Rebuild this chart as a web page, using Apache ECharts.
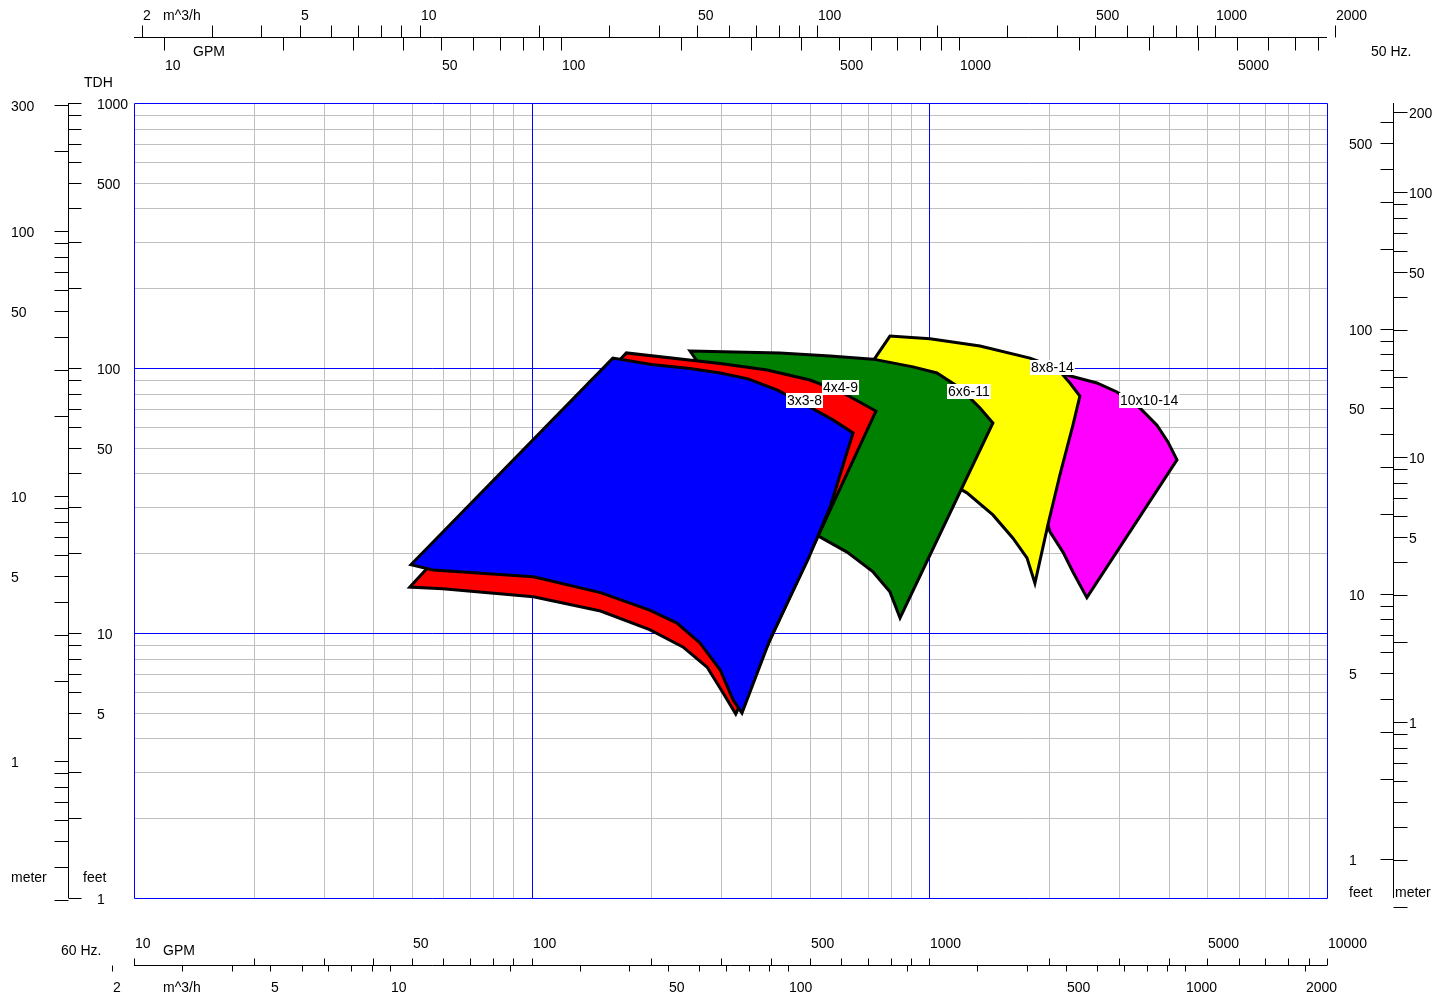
<!DOCTYPE html>
<html>
<head>
<meta charset="utf-8">
<title>Pump coverage chart</title>
<script src="https://cdn.jsdelivr.net/npm/echarts@6/dist/echarts.min.js"></script>
<style>
    html, body { margin: 0; padding: 0; background: #fff; }
    #main { width: 1452px; height: 1000px; }
</style>
</head>
<body>
<div id="main"></div>
<script>
// pump ranges, 60 Hz: flow in GPM, head in feet
var FLOW_10X10 = [2011, 2168, 2639, 2963, 3384, 3736, 3981, 4195, 2490, 2297, 2168, 2011, 1897];
var HEAD_10X10 = [96.6, 94.9, 87.8, 81.2, 70.7, 60.9, 52.6, 45.0, 13.6, 17.0, 20.2, 24.1, 31.8];

var FLOW_8X8 = [730, 796, 1004, 1341, 1791, 2094, 2257, 2391, 2297, 2130, 1987, 1843, 1760, 1623, 1445, 1243, 1094];
var HEAD_8X8 = [109, 132, 129, 121, 109, 100, 87.8, 78.4, 60.9, 39.5, 25.6, 15.4, 19.2, 22.8, 27.9, 33.8, 37.8];

var FLOW_6X6 = [250, 421, 563, 722, 910, 1045, 1194, 1341, 1445, 844, 796, 722, 621, 526];
var HEAD_6X6 = [116, 114, 111, 108, 101, 95.8, 84.1, 70.7, 62.0, 11.4, 14.3, 17.0, 20.2, 23.2];

var FLOW_4X4 = [49.4, 173, 298, 391, 501, 607, 734, 326, 303, 276, 240, 198, 149, 101, 59.8];
var HEAD_4X4 = [14.9, 114, 104, 98.3, 90.1, 80.5, 68.8, 4.95, 5.94, 7.44, 8.86, 10.3, 12.1, 13.7, 14.7];

var FLOW_3X3 = [49.7, 160, 200, 250, 298, 350, 415, 490, 572, 643, 563, 495, 397, 338, 321, 298, 265, 232, 198, 149, 101, 56.5];
var HEAD_3X3 = [18.1, 109, 103, 99.5, 95.8, 91.0, 82.5, 72.5, 63.7, 56.9, 29.9, 18.9, 9.41, 4.99, 5.59, 7.25, 9.17, 10.9, 12.2, 14.2, 16.3, 17.3];

var PUMP_NAMES = ['3x3-8', '4x4-9', '6x6-11', '8x8-14', '10x10-14'];
var NAME_FLOW = [436, 537, 1107, 1791, 2997];
var NAME_HEAD = [80.5, 90.1, 87.0, 107, 80.5];

// ruler ticks and labels
var GPM60_TICKS = [10, 20, 30, 40, 50, 60, 70, 80, 90, 100, 200, 300, 400, 500, 600, 700, 800, 900,
    1000, 2000, 3000, 4000, 5000, 6000, 7000, 8000, 9000, 10000];
var GPM60_LABELS = [10, 50, 100, 500, 1000, 5000, 10000];
var GPM50_TICKS = [10, 20, 30, 40, 50, 60, 70, 80, 90, 100, 200, 300, 400, 500, 600, 700, 800, 900,
    1000, 2000, 3000, 4000, 5000, 6000, 7000, 8000];
var GPM50_LABELS = [10, 50, 100, 500, 1000, 5000];
var M3H_TICKS = [2, 3, 4, 5, 6, 7, 8, 9, 10, 20, 30, 40, 50, 60, 70, 80, 90, 100, 200, 300, 400, 500,
    600, 700, 800, 900, 1000, 2000];
var M3H_LABELS = [2, 5, 10, 50, 100, 500, 1000, 2000];
var FT60_TICKS = [1, 2, 3, 4, 5, 6, 7, 8, 9, 10, 20, 30, 40, 50, 60, 70, 80, 90, 100, 200, 300, 400,
    500, 600, 700, 800, 900, 1000];
var FT60_LABELS = [1, 5, 10, 50, 100, 500, 1000];
var FT50_TICKS = [1, 2, 3, 4, 5, 6, 7, 8, 9, 10, 20, 30, 40, 50, 60, 70, 80, 90, 100, 200, 300, 400,
    500, 600];
var FT50_LABELS = [1, 5, 10, 50, 100, 500];
var M60_TICKS = [0.3, 0.4, 0.5, 0.6, 0.7, 0.8, 0.9, 1, 2, 3, 4, 5, 6, 7, 8, 9, 10, 20, 30, 40, 50, 60,
    70, 80, 90, 100, 200, 300];
var M60_LABELS = [1, 5, 10, 50, 100, 300];
var M50_TICKS = [0.2, 0.3, 0.4, 0.5, 0.6, 0.7, 0.8, 0.9, 1, 2, 3, 4, 5, 6, 7, 8, 9, 10, 20, 30, 40, 50,
    60, 70, 80, 90, 100, 200];
var M50_LABELS = [1, 5, 10, 50, 100, 200];

// unit conversions (50 Hz runs at 2950 rpm against 3500 rpm)
var SPEED = 3500 / 2950;
var GPM_PER_M3H = 4.403;
var FT_PER_M = 3.2808;

var FONT = '"Liberation Sans", Arial, sans-serif';
var PLOT = { left: 134, top: 103, width: 1193, height: 795 };

function fmt(v) {
    return String(+(+v).toPrecision(4));
}

function label(str, x, y) {
    return {
        type: 'text', x: x, y: y, silent: true,
        style: { text: str, fill: '#000', font: '14px ' + FONT, verticalAlign: 'middle', align: 'left' }
    };
}

// one ruler = ticks + labels (+ baseline), placed through the main log axes
// factor converts the ruler unit into 60 Hz GPM (x) or 60 Hz feet (y)
function rulerSeries(r) {
    var horiz = r.axis === 'x';
    return {
        type: 'custom',
        xAxisIndex: 0,
        yAxisIndex: 0,
        silent: true,
        clip: false,
        z: 5,
        data: r.ticks.map(function (v) { return horiz ? [v * r.factor, 10] : [100, v * r.factor]; }),
        renderItem: function (params, api) {
            var v = r.ticks[params.dataIndex];
            var p = api.coord([api.value(0), api.value(1)]);
            var kids = [];
            var c, base = r.pos + 0.5;
            if (horiz) {
                c = Math.round(p[0]) + 0.5;
                kids.push({ type: 'line', shape: { x1: c, y1: base, x2: c, y2: base + r.tick },
                            style: { stroke: '#000', lineWidth: 1 } });
                if (r.labels.indexOf(v) >= 0) kids.push(label(fmt(v), Math.round(p[0]) + 1, r.labelPos));
            } else {
                c = Math.round(p[1]) + 0.5;
                kids.push({ type: 'line', shape: { x1: base, y1: c, x2: base + r.tick, y2: c },
                            style: { stroke: '#000', lineWidth: 1 } });
                if (r.labels.indexOf(v) >= 0) kids.push(label(fmt(v), r.labelPos, Math.round(p[1]) + 2));
            }
            if (r.line && params.dataIndex === 0) {
                var a = api.coord([10, 1]), b = api.coord([10000, 1000]);
                kids.push(horiz
                    ? { type: 'line', shape: { x1: a[0], y1: base, x2: b[0], y2: base }, style: { stroke: '#000', lineWidth: 1 } }
                    : { type: 'line', shape: { x1: base, y1: a[1], x2: base, y2: b[1] }, style: { stroke: '#000', lineWidth: 1 } });
            }
            return { type: 'group', children: kids };
        }
    };
}

function pumpSeries(name, flow, head, color) {
    return {
        type: 'custom',
        name: name,
        xAxisIndex: 0,
        yAxisIndex: 0,
        silent: true,
        clip: false,
        z: 3,
        data: flow.map(function (f, i) { return [f, head[i]]; }),
        renderItem: function (params, api) {
            if (params.dataIndex !== 0) return null;
            var pts = flow.map(function (f, i) { return api.coord([f, head[i]]); });
            return {
                type: 'polygon',
                shape: { points: pts },
                style: { fill: color, stroke: '#000', lineWidth: 3, lineJoin: 'miter' }
            };
        }
    };
}

// plot grid: grey at every tick, blue at the decades (incl. the frame)
function isDecade(v) {
    var l = Math.log10(v);
    return Math.abs(l - Math.round(l)) < 1e-9;
}

function gridSeries(values, vertical, decades, z) {
    var list = values.filter(function (v) { return isDecade(v) === decades; });
    var color = decades ? '#0000ff' : '#c0c0c0';
    return {
        type: 'custom',
        xAxisIndex: 0,
        yAxisIndex: 0,
        silent: true,
        clip: false,
        z: z,
        data: list.map(function (v) { return vertical ? [v, 10] : [100, v]; }),
        renderItem: function (params, api) {
            var v = list[params.dataIndex];
            var a = vertical ? api.coord([v, 1]) : api.coord([10, v]);
            var b = vertical ? api.coord([v, 1000]) : api.coord([10000, v]);
            var x1, y1, x2, y2;
            if (vertical) {
                x1 = x2 = Math.round(a[0]) + 0.5;
                y1 = Math.round(a[1]) + 0.5; y2 = Math.round(b[1]) + 0.5;
            } else {
                y1 = y2 = Math.round(a[1]) + 0.5;
                x1 = Math.round(a[0]) + 0.5; x2 = Math.round(b[0]) + 0.5;
            }
            return {
                type: 'line',
                shape: { x1: x1, y1: y1, x2: x2, y2: y2 },
                style: { stroke: color, lineWidth: 1 }
            };
        }
    };
}

var RULERS = [
    { axis: 'x', ticks: GPM60_TICKS, labels: GPM60_LABELS, factor: 1, pos: 965, tick: -7, labelPos: 944, line: true },
    { axis: 'x', ticks: M3H_TICKS, labels: M3H_LABELS, factor: GPM_PER_M3H, pos: 965, tick: 6, labelPos: 988 },
    { axis: 'x', ticks: GPM50_TICKS, labels: GPM50_LABELS, factor: SPEED, pos: 37, tick: 13, labelPos: 66, line: true },
    { axis: 'x', ticks: M3H_TICKS, labels: M3H_LABELS, factor: GPM_PER_M3H * SPEED, pos: 37, tick: -12, labelPos: 16 },
    { axis: 'y', ticks: FT60_TICKS, labels: FT60_LABELS, factor: 1, pos: 68, tick: 13, labelPos: 97, line: true },
    { axis: 'y', ticks: M60_TICKS, labels: M60_LABELS, factor: FT_PER_M, pos: 68, tick: -14, labelPos: 11 },
    { axis: 'y', ticks: FT50_TICKS, labels: FT50_LABELS, factor: SPEED * SPEED, pos: 1393, tick: -13, labelPos: 1349, line: true },
    { axis: 'y', ticks: M50_TICKS, labels: M50_LABELS, factor: FT_PER_M * SPEED * SPEED, pos: 1393, tick: 14, labelPos: 1409 }
];

var series = [
    gridSeries(GPM60_TICKS, true, false, 1),
    gridSeries(FT60_TICKS, false, false, 1),
    gridSeries(GPM60_TICKS, true, true, 2),
    gridSeries(FT60_TICKS, false, true, 2),
    pumpSeries('10x10-14', FLOW_10X10, HEAD_10X10, '#ff00ff'),
    pumpSeries('8x8-14', FLOW_8X8, HEAD_8X8, '#ffff00'),
    pumpSeries('6x6-11', FLOW_6X6, HEAD_6X6, '#008000'),
    pumpSeries('4x4-9', FLOW_4X4, HEAD_4X4, '#ff0000'),
    pumpSeries('3x3-8', FLOW_3X3, HEAD_3X3, '#0000ff'),
    {
        type: 'custom',
        name: 'names',
        xAxisIndex: 0,
        yAxisIndex: 0,
        silent: true,
        clip: false,
        z: 4,
        data: NAME_FLOW.map(function (f, i) { return [f, NAME_HEAD[i]]; }),
        renderItem: function (params, api) {
            var p = api.coord([api.value(0), api.value(1)]);
            return {
                type: 'text',
                x: Math.round(p[0]),
                y: Math.round(p[1]),
                style: {
                    text: PUMP_NAMES[params.dataIndex],
                    fill: '#000',
                    font: '14px ' + FONT,
                    backgroundColor: '#fff',
                    padding: [1, 1, 0, 1],
                    align: 'left',
                    verticalAlign: 'top'
                }
            };
        }
    }
].concat(RULERS.map(rulerSeries));

function hiddenAxis(min, max) {
    return {
        type: 'log', min: min, max: max, show: false,
        axisLine: { show: false }, axisTick: { show: false }, axisLabel: { show: false },
        splitLine: { show: false }, minorTick: { show: false }, minorSplitLine: { show: false },
        splitArea: { show: false }, axisPointer: { show: false }
    };
}

var chart = echarts.init(document.getElementById('main'));
var option = {
    animation: false,
    backgroundColor: '#fff',
    grid: {
        left: PLOT.left, top: PLOT.top, width: PLOT.width, height: PLOT.height, show: false,
        outerBoundsMode: 'none'
    },
    xAxis: hiddenAxis(10, 10000),
    yAxis: hiddenAxis(1, 1000),
    graphic: {
        elements: [
            label('m^3/h', 163, 16),
            label('GPM', 193, 52),
            label('50 Hz.', 1371, 52),
            label('TDH', 84, 83),
            label('meter', 11, 878),
            label('feet', 83, 878),
            label('feet', 1349, 893),
            label('meter', 1395, 893),
            label('60 Hz.', 61, 951),
            label('GPM', 163, 951),
            label('m^3/h', 163, 988)
        ]
    },
    series: series
};
chart.setOption(option);
</script>
</body>
</html>
